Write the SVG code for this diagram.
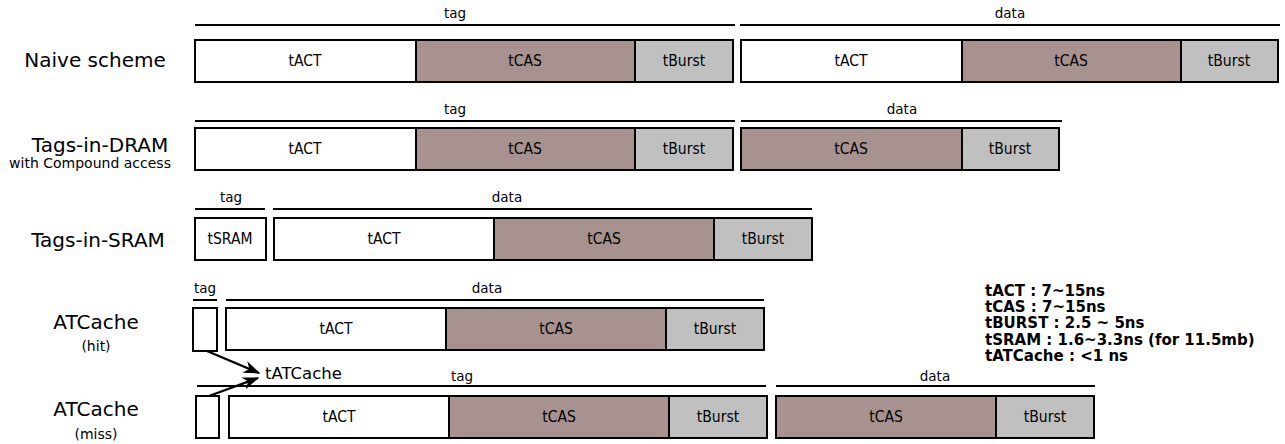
<svg xmlns="http://www.w3.org/2000/svg" width="1285" height="444" viewBox="0 0 1285 444">
<style>
.box{stroke:#000;stroke-width:2}
.w{fill:#fff}.c{fill:#a8928f}.b{fill:#c0c0c0}
.bl{font-family:"DejaVu Sans Condensed","DejaVu Sans",sans-serif;font-size:15.5px;text-anchor:middle;fill:#000}
.sm{font-family:"DejaVu Sans",sans-serif;font-size:13.5px;text-anchor:middle;fill:#000}
.lab{font-family:"DejaVu Sans",sans-serif;font-size:20px;text-anchor:middle;fill:#000}
.sub{font-family:"DejaVu Sans",sans-serif;font-size:14px;text-anchor:middle;fill:#000}
.leg{font-family:"DejaVu Sans",sans-serif;font-size:15px;font-weight:bold;fill:#000}
.ln{stroke:#000;stroke-width:2;fill:none}
.ar{stroke:#000;stroke-width:2.2;fill:none}
</style>
<defs>
<marker id="ah" viewBox="0 0 12 10" refX="11" refY="5" markerWidth="17" markerHeight="14" orient="auto" markerUnits="userSpaceOnUse">
<path d="M0,0.5 L12,5 L0,9.5 L3.5,5 Z" fill="#000"/>
</marker>
</defs>

<g id="labels">
<text class="lab" x="95" y="67">Naive scheme</text>
<text class="lab" x="100" y="152">Tags-in-DRAM</text>
<text class="sub" x="90" y="168">with Compound access</text>
<text class="lab" x="98" y="247">Tags-in-SRAM</text>
<text class="lab" x="96" y="329">ATCache</text>
<text class="sub" x="96" y="351">(hit)</text>
<text class="lab" x="96" y="416">ATCache</text>
<text class="sub" x="96" y="439">(miss)</text>
</g>

<g id="naive">
<line class="ln" x1="195" y1="25" x2="735" y2="25"/>
<text class="sm" x="455" y="18">tag</text>
<line class="ln" x1="740" y1="25" x2="1280" y2="25"/>
<text class="sm" x="1010" y="18">data</text>
<rect class="box w" x="195" y="40" width="221" height="42"/>
<rect class="box c" x="416" y="40" width="219" height="42"/>
<rect class="box b" x="635" y="40" width="98" height="42"/>
<text class="bl" x="305" y="66">tACT</text>
<text class="bl" x="525" y="66">tCAS</text>
<text class="bl" x="684" y="66">tBurst</text>
<rect class="box w" x="741" y="40" width="221" height="42"/>
<rect class="box c" x="962" y="40" width="219" height="42"/>
<rect class="box b" x="1181" y="40" width="97" height="42"/>
<text class="bl" x="851" y="66">tACT</text>
<text class="bl" x="1071" y="66">tCAS</text>
<text class="bl" x="1229" y="66">tBurst</text>
</g>

<g id="dram">
<line class="ln" x1="195" y1="121" x2="735" y2="121"/>
<text class="sm" x="455" y="114">tag</text>
<line class="ln" x1="741" y1="121" x2="1062" y2="121"/>
<text class="sm" x="902" y="114">data</text>
<rect class="box w" x="195" y="128" width="221" height="42"/>
<rect class="box c" x="416" y="128" width="219" height="42"/>
<rect class="box b" x="635" y="128" width="98" height="42"/>
<text class="bl" x="305" y="154">tACT</text>
<text class="bl" x="525" y="154">tCAS</text>
<text class="bl" x="684" y="154">tBurst</text>
<rect class="box c" x="741" y="128" width="221" height="42"/>
<rect class="box b" x="962" y="128" width="97" height="42"/>
<text class="bl" x="851" y="154">tCAS</text>
<text class="bl" x="1010" y="154">tBurst</text>
</g>

<g id="sram">
<line class="ln" x1="195" y1="209" x2="265" y2="209"/>
<text class="sm" x="231" y="202">tag</text>
<line class="ln" x1="273" y1="209" x2="812" y2="209"/>
<text class="sm" x="507" y="202">data</text>
<rect class="box w" x="195" y="218" width="71" height="42"/>
<rect class="box w" x="274" y="218" width="220" height="42"/>
<rect class="box c" x="494" y="218" width="220" height="42"/>
<rect class="box b" x="714" y="218" width="98" height="42"/>
<text class="bl" x="230" y="244">tSRAM</text>
<text class="bl" x="384" y="244">tACT</text>
<text class="bl" x="604" y="244">tCAS</text>
<text class="bl" x="763" y="244">tBurst</text>
</g>

<g id="hit">
<line class="ln" x1="193" y1="300" x2="217" y2="300"/>
<text class="sm" x="205" y="293">tag</text>
<line class="ln" x1="226" y1="300" x2="764" y2="300"/>
<text class="sm" x="487" y="293">data</text>
<rect class="box w" x="193" y="308" width="24" height="43"/>
<rect class="box w" x="226" y="308" width="220" height="42"/>
<rect class="box c" x="446" y="308" width="220" height="42"/>
<rect class="box b" x="666" y="308" width="98" height="42"/>
<text class="bl" x="336" y="334">tACT</text>
<text class="bl" x="556" y="334">tCAS</text>
<text class="bl" x="715" y="334">tBurst</text>
</g>

<g id="miss">
<line class="ln" x1="197" y1="386" x2="766" y2="386"/>
<text class="sm" x="462" y="381">tag</text>
<line class="ln" x1="776" y1="386" x2="1095" y2="386"/>
<text class="sm" x="935" y="381">data</text>
<rect class="box w" x="196" y="396" width="23" height="42"/>
<rect class="box w" x="229" y="396" width="220" height="42"/>
<rect class="box c" x="449" y="396" width="220" height="42"/>
<rect class="box b" x="669" y="396" width="98" height="42"/>
<rect class="box c" x="776" y="396" width="220" height="42"/>
<rect class="box b" x="996" y="396" width="98" height="42"/>
<text class="bl" x="339" y="422">tACT</text>
<text class="bl" x="559" y="422">tCAS</text>
<text class="bl" x="718" y="422">tBurst</text>
<text class="bl" x="886" y="422">tCAS</text>
<text class="bl" x="1045" y="422">tBurst</text>
</g>

<g id="connectors">
<line class="ar" x1="207" y1="351" x2="259" y2="373" marker-end="url(#ah)"/>
<line class="ar" x1="209" y1="396" x2="258" y2="378" marker-end="url(#ah)"/>
</g>
<text x="265" y="379" font-family="DejaVu Sans, sans-serif" font-size="16.5px" fill="#000">tATCache</text>

<g id="legend">
<text class="leg" x="985" y="296">tACT : 7~15ns</text>
<text class="leg" x="985" y="312">tCAS : 7~15ns</text>
<text class="leg" x="985" y="328">tBURST : 2.5 ~ 5ns</text>
<text class="leg" x="985" y="345">tSRAM : 1.6~3.3ns (for 11.5mb)</text>
<text class="leg" x="985" y="361">tATCache : &lt;1 ns</text>
</g>
</svg>
